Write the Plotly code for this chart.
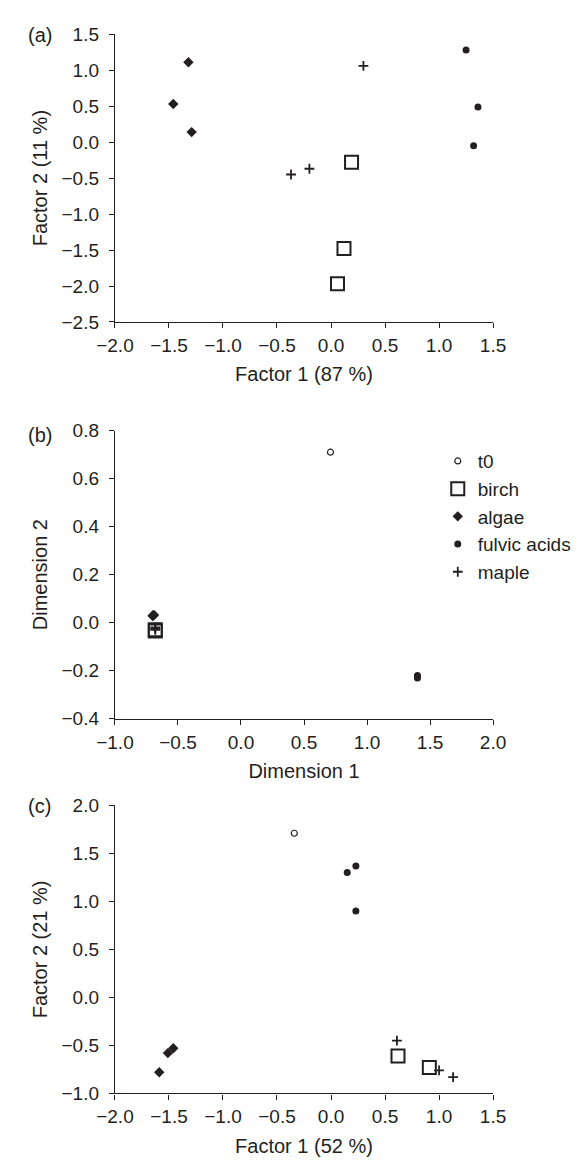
import plotly.graph_objects as go

# ---------------- data ----------------
# Panel (a): Factor 1 (87 %) vs Factor 2 (11 %)
a_birch_x = [0.19, 0.12, 0.06]
a_birch_y = [-0.28, -1.48, -1.97]
a_algae_x = [-1.32, -1.46, -1.29]
a_algae_y = [1.11, 0.53, 0.14]
a_fulvic_x = [1.25, 1.36, 1.32]
a_fulvic_y = [1.28, 0.49, -0.05]
a_maple_x = [0.30, -0.37, -0.20]
a_maple_y = [1.06, -0.45, -0.37]

# Panel (b): Dimension 1 vs Dimension 2
b_t0_x = [0.71]
b_t0_y = [0.71]
b_birch_x = [-0.68, -0.68]
b_birch_y = [-0.03, -0.035]
b_algae_x = [-0.70, -0.70, -0.69]
b_algae_y = [0.03, 0.028, 0.032]
b_fulvic_x = [1.40, 1.40, 1.40]
b_fulvic_y = [-0.22, -0.225, -0.23]
b_maple_x = [-0.68, -0.68, -0.68]
b_maple_y = [-0.02, -0.025, -0.03]

# Panel (c): Factor 1 (52 %) vs Factor 2 (21 %)
c_t0_x = [-0.34]
c_t0_y = [1.71]
c_birch_x = [0.62, 0.91]
c_birch_y = [-0.61, -0.73]
c_algae_x = [-1.59, -1.51, -1.46]
c_algae_y = [-0.78, -0.58, -0.53]
c_fulvic_x = [0.15, 0.23, 0.23]
c_fulvic_y = [1.30, 1.37, 0.90]
c_maple_x = [0.61, 1.00, 1.13]
c_maple_y = [-0.45, -0.76, -0.83]

categories = ["t0", "birch", "algae", "fulvic acids", "maple"]

# ---------------- styles ----------------
INK = "#231f20"
FONT = "Liberation Sans, Arial, sans-serif"
styles = {
    "t0": dict(symbol="circle-open", size=6, color=INK, line=dict(color=INK, width=1.2)),
    "birch": dict(symbol="square-open", size=13, color=INK, line=dict(color=INK, width=2)),
    "algae": dict(symbol="diamond", size=8, color=INK, line=dict(color=INK, width=0)),
    "fulvic acids": dict(symbol="circle", size=7, color=INK, line=dict(color=INK, width=0)),
    "maple": dict(symbol="cross-thin-open", size=7, color=INK, line=dict(color=INK, width=1.8)),
}

panels = {
    "a": {"birch": (a_birch_x, a_birch_y), "algae": (a_algae_x, a_algae_y),
          "fulvic acids": (a_fulvic_x, a_fulvic_y), "maple": (a_maple_x, a_maple_y)},
    "b": {"t0": (b_t0_x, b_t0_y), "birch": (b_birch_x, b_birch_y), "algae": (b_algae_x, b_algae_y),
          "fulvic acids": (b_fulvic_x, b_fulvic_y), "maple": (b_maple_x, b_maple_y)},
    "c": {"t0": (c_t0_x, c_t0_y), "birch": (c_birch_x, c_birch_y), "algae": (c_algae_x, c_algae_y),
          "fulvic acids": (c_fulvic_x, c_fulvic_y), "maple": (c_maple_x, c_maple_y)},
}
axis_ids = {"a": ("x", "y"), "b": ("x2", "y2"), "c": ("x3", "y3")}

fig = go.Figure()
for p in ["a", "b", "c"]:
    xa, ya = axis_ids[p]
    for rank, cat in enumerate(categories):
        if cat not in panels[p]:
            continue
        xs, ys = panels[p][cat]
        fig.add_trace(go.Scatter(
            x=xs, y=ys, mode="markers", name=cat,
            marker=styles[cat], xaxis=xa, yaxis=ya,
            legendgroup=cat, legendrank=rank + 1,
            showlegend=(p == "b"), cliponaxis=False,
        ))

W, H = 585, 1166
xdom = [101.5 / W, 501.5 / W]


def ydom(top, bottom):
    return [1 - bottom / H, 1 - top / H]


common_axis = dict(
    showline=True, linecolor=INK, linewidth=1.3, mirror=False,
    ticks="outside", ticklen=5, tickwidth=1.3, tickcolor=INK,
    showgrid=False, zeroline=False, tickformat=".1f",
    tickfont=dict(family=FONT, size=19, color=INK),
    title_font=dict(family=FONT, size=20, color=INK),
)
xcommon = dict(common_axis, ticklabelstandoff=1)
ycommon = dict(common_axis, ticklabelstandoff=6)

fig.update_layout(
    width=W, height=H,
    margin=dict(l=0, r=0, t=0, b=0),
    paper_bgcolor="white", plot_bgcolor="white",
    font=dict(family=FONT, color=INK),
    xaxis=dict(xcommon, domain=xdom, anchor="y", range=[-2, 1.5], dtick=0.5, tick0=0,
               title=dict(text="Factor 1 (87 %)", standoff=12)),
    yaxis=dict(ycommon, domain=ydom(24.7, 317.7), anchor="x", range=[-2.5, 1.5], dtick=0.5, tick0=0,
               title=dict(text="Factor 2 (11 %)", standoff=8)),
    xaxis2=dict(xcommon, domain=xdom, anchor="y2", range=[-1, 2], dtick=0.5, tick0=0,
                title=dict(text="Dimension 1", standoff=12)),
    yaxis2=dict(ycommon, domain=ydom(428.3, 721.7), anchor="x2", range=[-0.4, 0.8], dtick=0.2, tick0=0,
                title=dict(text="Dimension 2", standoff=8)),
    xaxis3=dict(xcommon, domain=xdom, anchor="y3", range=[-2, 1.5], dtick=0.5, tick0=0,
                title=dict(text="Factor 1 (52 %)", standoff=12)),
    yaxis3=dict(ycommon, domain=ydom(810, 1103.3), anchor="x3", range=[-1, 2], dtick=0.5, tick0=0,
                title=dict(text="Factor 2 (21 %)", standoff=8)),
    legend=dict(
        x=443 / W, y=1 - 440 / H, xanchor="left", yanchor="top",
        font=dict(family=FONT, size=19, color=INK),
        bgcolor="rgba(0,0,0,0)", tracegroupgap=0, itemsizing="trace",
    ),
    showlegend=True,
)

panel_labels = [("(a)", 25), ("(b)", 432.7), ("(c)", 811)]
for txt, yc in panel_labels:
    fig.add_annotation(
        text=txt, xref="paper", yref="paper", x=22 / W, y=1 - yc / H,
        xanchor="center", yanchor="middle", showarrow=False,
        font=dict(family=FONT, size=20, color=INK),
    )

fig.write_html("out.html")
